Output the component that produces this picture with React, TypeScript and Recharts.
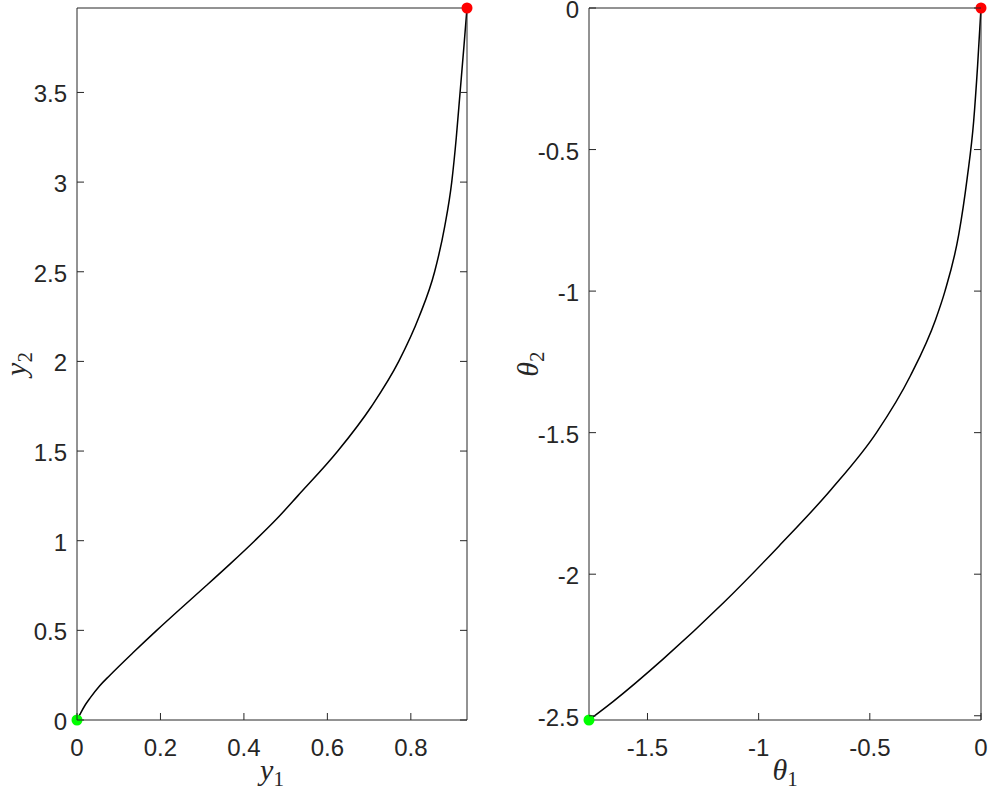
import { ComposedChart, Line, Scatter, XAxis, YAxis } from 'recharts';

// left panel: y1 along the bottom, y2 up the side
const y1Values = [0, 0.009, 0.02, 0.032, 0.054, 0.079, 0.134, 0.191, 0.25, 0.31, 0.369, 0.426, 0.48, 0.529, 0.625, 0.706, 0.771, 0.82, 0.857, 0.881, 0.898, 0.909, 0.918, 0.927, 0.9346];
const y2Values = [0, 0.04, 0.085, 0.125, 0.19, 0.25, 0.375, 0.5, 0.625, 0.75, 0.875, 1, 1.125, 1.25, 1.5, 1.75, 2, 2.25, 2.5, 2.75, 3, 3.25, 3.5, 3.75, 3.971];

// right panel: theta1 along the bottom, theta2 up the side
const theta1Values = [-1.763, -1.655, -1.43, -1.157, -0.908, -0.673, -0.47, -0.318, -0.204, -0.162, -0.1, -0.062, -0.033, -0.015, 0];
const theta2Values = [-2.515, -2.45, -2.3, -2.1, -1.9, -1.7, -1.5, -1.3, -1.1, -1.0, -0.8, -0.6, -0.4, -0.2, 0];

const leftXTicks = [0, 0.2, 0.4, 0.6, 0.8];
const leftYTicks = [0, 0.5, 1, 1.5, 2, 2.5, 3, 3.5];
const rightXTicks = [-1.5, -1, -0.5, 0];
const rightYTicks = [-2.5, -2, -1.5, -1, -0.5, 0];

const leftXDomain = [0, 0.9346];
const leftYDomain = [0, 3.971];
const rightXDomain = [-1.763, 0];
const rightYDomain = [-2.515, 0];

const AXIS = '#262626';
const TICK_LEN = 7;
const SANS = '"Liberation Sans", Arial, Helvetica, sans-serif';
const SERIF = '"Liberation Serif", "DejaVu Serif", serif';
const FONT_SIZE = 24;

const toPoints = (xs: number[], ys: number[]) => xs.map((x, i) => ({ x, y: ys[i] }));

const BottomTick = ({ x, y, payload }: any) => (
  <g>
    <line x1={x} y1={y} x2={x} y2={y - TICK_LEN} stroke={AXIS} />
    <text x={x} y={y + 36} textAnchor="middle" fill={AXIS} fontSize={FONT_SIZE} fontFamily={SANS}>
      {String(payload.value)}
    </text>
  </g>
);

const LeftTick = ({ x, y, payload }: any) => (
  <g>
    <line x1={x} y1={y} x2={x + TICK_LEN} y2={y} stroke={AXIS} />
    <text x={x - 10} y={y + 10} textAnchor="end" fill={AXIS} fontSize={FONT_SIZE} fontFamily={SANS}>
      {String(payload.value)}
    </text>
  </g>
);

const TopTick = ({ x, y }: any) => <line x1={x} y1={y} x2={x} y2={y + TICK_LEN} stroke={AXIS} />;
const RightTick = ({ x, y }: any) => <line x1={x} y1={y} x2={x - TICK_LEN} y2={y} stroke={AXIS} />;

const BottomTitle = ({ viewBox, main, sub }: any) => (
  <text
    x={viewBox.x + viewBox.width / 2}
    y={viewBox.y + 60}
    textAnchor="middle"
    fill={AXIS}
    fontFamily={SERIF}
    fontStyle="italic"
    fontSize={30}
  >
    {main}
    <tspan fontStyle="normal" fontSize={21} dy={6}>{sub}</tspan>
  </text>
);

const SideTitle = ({ viewBox, main, sub, offset }: any) => {
  const cx = viewBox.x + viewBox.width - offset;
  const cy = viewBox.y + viewBox.height / 2;
  return (
    <text
      x={cx}
      y={cy}
      transform={`rotate(-90, ${cx}, ${cy})`}
      textAnchor="middle"
      fill={AXIS}
      fontFamily={SERIF}
      fontStyle="italic"
      fontSize={30}
    >
      {main}
      <tspan fontStyle="normal" fontSize={21} dy={6}>{sub}</tspan>
    </text>
  );
};

const dotShape = (color: string) => (p: any) => <circle cx={p.cx} cy={p.cy} r={5.5} fill={color} />;

interface PanelProps {
  width: number;
  margin: { top: number; right: number; bottom: number; left: number };
  points: { x: number; y: number }[];
  xDomain: number[];
  yDomain: number[];
  xTicks: number[];
  yTicks: number[];
  xName: string;
  yName: string;
  yTitleOffset: number;
}

function Panel({ width, margin, points, xDomain, yDomain, xTicks, yTicks, xName, yName, yTitleOffset }: PanelProps) {
  const start = [points[0]];
  const end = [points[points.length - 1]];
  return (
    <ComposedChart width={width} height={800} margin={margin}>
      <XAxis
        xAxisId="main"
        dataKey="x"
        type="number"
        domain={xDomain}
        ticks={xTicks}
        height={1}
        tickSize={0}
        tickMargin={0}
        tickLine={false}
        axisLine={{ stroke: AXIS }}
        tick={BottomTick}
        interval={0}
        label={{ content: (p: any) => <BottomTitle viewBox={p.viewBox} main={xName} sub="1" /> }}
      />
      <XAxis
        xAxisId="top"
        orientation="top"
        type="number"
        domain={xDomain}
        ticks={xTicks}
        height={1}
        tickSize={0}
        tickMargin={0}
        tickLine={false}
        axisLine={{ stroke: AXIS }}
        tick={TopTick}
        interval={0}
        allowDataOverflow
      />
      <YAxis
        yAxisId="main"
        dataKey="y"
        type="number"
        domain={yDomain}
        ticks={yTicks}
        width={1}
        tickSize={0}
        tickMargin={0}
        tickLine={false}
        axisLine={{ stroke: AXIS }}
        tick={LeftTick}
        interval={0}
        label={{ content: (p: any) => <SideTitle viewBox={p.viewBox} main={yName} sub="2" offset={yTitleOffset} /> }}
      />
      <YAxis
        yAxisId="right"
        orientation="right"
        type="number"
        domain={yDomain}
        ticks={yTicks}
        width={1}
        tickSize={0}
        tickMargin={0}
        tickLine={false}
        axisLine={{ stroke: AXIS }}
        tick={RightTick}
        interval={0}
        allowDataOverflow
      />
      <Line
        xAxisId="main"
        yAxisId="main"
        data={points}
        dataKey="y"
        type="monotone"
        stroke="#000000"
        strokeWidth={1.5}
        dot={false}
        activeDot={false}
        isAnimationActive={false}
      />
      <Scatter xAxisId="main" yAxisId="main" data={start} dataKey="y" shape={dotShape('#00ff00')} isAnimationActive={false} />
      <Scatter xAxisId="main" yAxisId="main" data={end} dataKey="y" shape={dotShape('#ff0000')} isAnimationActive={false} />
    </ComposedChart>
  );
}

export default function App() {
  return (
    <div style={{ position: 'absolute', left: 0, top: 0, width: 989, height: 800, display: 'flex', background: '#ffffff' }}>
      <Panel
        width={494}
        margin={{ top: 7, right: 26, bottom: 79, left: 76 }}
        points={toPoints(y1Values, y2Values)}
        xDomain={leftXDomain}
        yDomain={leftYDomain}
        xTicks={leftXTicks}
        yTicks={leftYTicks}
        xName="y"
        yName="y"
        yTitleOffset={51}
      />
      <Panel
        width={495}
        margin={{ top: 7, right: 7, bottom: 79, left: 94 }}
        points={toPoints(theta1Values, theta2Values)}
        xDomain={rightXDomain}
        yDomain={rightYDomain}
        xTicks={rightXTicks}
        yTicks={rightYTicks}
        xName="θ"
        yName="θ"
        yTitleOffset={51}
      />
    </div>
  );
}
